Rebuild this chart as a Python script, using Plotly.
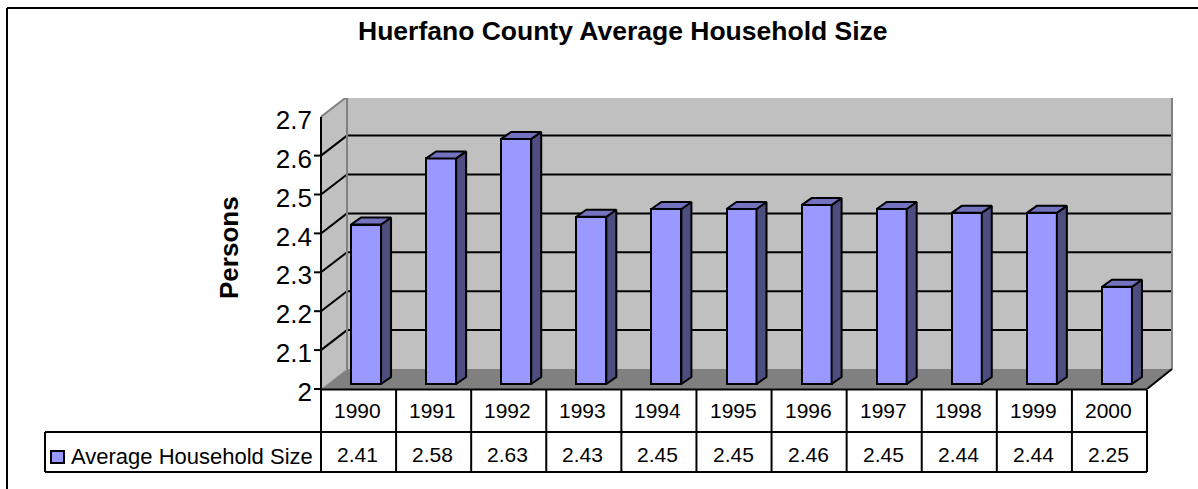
import plotly.graph_objects as go

years = ["1990", "1991", "1992", "1993", "1994", "1995", "1996", "1997", "1998", "1999", "2000"]
household_size = [2.41, 2.58, 2.63, 2.43, 2.45, 2.45, 2.46, 2.45, 2.44, 2.44, 2.25]
y_ticks = [2, 2.1, 2.2, 2.3, 2.4, 2.5, 2.6, 2.7]
y_tick_labels = ["2", "2.1", "2.2", "2.3", "2.4", "2.5", "2.6", "2.7"]
title_text = "Huerfano County Average Household Size"
y_title = "Persons"
series_name = "Average Household Size"

W, H = 1198, 489
FONT = "Liberation Sans, Arial, sans-serif"
PX_X0, PX_X1 = 321, 1173      # plot area, pixels
PX_Y0, PX_Y1 = 389, 98
CAT_PX = 826 / 11             # pixels per category
VAL_PX = 389.0                # pixels per unit of value

def px(p):
    return p / W
def py(p):
    return 1 - p / H
def dx(p):
    return p / CAT_PX
def dy(p):
    return p / VAL_PX

xmin = -0.5
xfront = xmin + 826 / CAT_PX
xmax = xmin + (PX_X1 - PX_X0) / CAT_PX
ymin = 2.0
ymax = ymin + (PX_Y0 - PX_Y1) / VAL_PX
wall_dx, wall_dy = dx(26), dy(20)

def poly(points, fill, line=None, width=0):
    d = "M" + " L".join(f"{a},{b}" for a, b in points) + " Z"
    return dict(type="path", path=d, xref="x", yref="y", layer="below", fillcolor=fill,
                line=dict(color=line or fill, width=width))

def seg(x0, y0, x1, y1, color, width):
    return dict(type="line", x0=x0, y0=y0, x1=x1, y1=y1, xref="x", yref="y", layer="below",
                line=dict(color=color, width=width))

def pseg(a0, b0, a1, b1, color="black", width=2):
    return dict(type="line", x0=px(a0), y0=py(b0), x1=px(a1), y1=py(b1), xref="paper", yref="paper",
                layer="above", line=dict(color=color, width=width))

def label(x, y, text, size, xref="paper", xanchor="center", **font):
    return dict(x=x, y=y, xref=xref, yref="paper", text=text, showarrow=False, xanchor=xanchor, yanchor="middle",
                font=dict(family=FONT, size=size, color="black", **font))

ytop = y_ticks[-1]
shapes = [
    # back wall, side wall, floor
    poly([(xmin + wall_dx, ymin + wall_dy), (xmax, ymin + wall_dy), (xmax, ytop + wall_dy), (xmin + wall_dx, ytop + wall_dy)], "#C0C0C0"),
    poly([(xmin, ymin), (xmin + wall_dx, ymin + wall_dy), (xmin + wall_dx, ytop + wall_dy), (xmin, ytop)], "#C0C0C0"),
    poly([(xmin, ymin), (xmin + wall_dx, ymin + wall_dy), (xmax, ymin + wall_dy), (xfront, ymin)], "#808080"),
]
for t in y_ticks[1:-1]:
    shapes.append(seg(xmin, t, xmin + wall_dx, t + wall_dy, "black", 2))
    shapes.append(seg(xmin + wall_dx, t + wall_dy, xmax - dx(1), t + wall_dy, "black", 2))
shapes += [
    seg(xmin + wall_dx, ymin + wall_dy, xmin + wall_dx, ytop + wall_dy, "#808080", 2),
    seg(xmin + wall_dx, ytop + wall_dy, xmax - dx(1), ytop + wall_dy, "#808080", 2),
    seg(xmax - dx(1), ymin + wall_dy, xmax - dx(1), ytop + wall_dy, "#808080", 2),
    seg(xmin, ytop, xmin + wall_dx, ytop + wall_dy, "#808080", 2),
    seg(xmin, ymin, xmin + wall_dx, ymin + wall_dy, "#A6A6A6", 1),
    seg(xfront, ymin, xmax - dx(1), ymin + wall_dy, "black", 2),
]

# value axis line and tick marks (no mark at the top value)
shapes.append(pseg(PX_X0, PX_Y0, PX_X0, PX_Y0 - (ytop - ymin) * VAL_PX))
for t in y_ticks[:-1]:
    tick_px = PX_Y0 - (t - ymin) * VAL_PX
    shapes.append(pseg(PX_X0 - 7, tick_px, PX_X0, tick_px))

# outer chart frame (top and left edges only are in view)
shapes += [pseg(7, 8, 1198, 8), pseg(7, 8, 7, 489)]

# data table rules
T0, T1, T2, TL = 389.5, 432, 472, 45
shapes += [pseg(PX_X0, T0, 1147, T0), pseg(TL, T1, 1147, T1), pseg(TL, T2, 1147, T2), pseg(TL, T1, TL, T2)]
for i in range(len(years) + 1):
    a = PX_X0 + i * CAT_PX
    shapes.append(pseg(a, T0, a, T2))
# legend key
shapes.append(dict(type="rect", x0=px(51), x1=px(64), y0=py(463), y1=py(451), xref="paper", yref="paper",
                   fillcolor="#9999FF", line=dict(color="black", width=2)))

annotations = []
for i, (yr, v) in enumerate(zip(years, household_size)):
    annotations.append(label(i - dx(1), py(410.5), yr, 21, xref="x"))
    annotations.append(label(i - dx(1), py(454.5), f"{v:.2f}", 21, xref="x"))
annotations.append(label(px(69), py(456), series_name, 22, xanchor="left"))
annotations.append(dict(label(px(229), py(248), y_title, 26, weight="bold"), textangle=-90))
annotations.append(label(px(622.5), py(31), title_text, 26.5, weight="bold"))

# bar geometry, relative to the front plane
BAR_W = dx(30)
SHIFT = dx(7.5)
LIFT = dy(5)
DEPTH_X, DEPTH_Y = dx(10), dy(7)

fig = go.Figure()
fig.add_trace(go.Bar(
    x=[i + SHIFT for i in range(len(years))],
    y=[v - ymin for v in household_size],
    base=ymin + LIFT,
    width=BAR_W,
    marker=dict(color="#9999FF", line=dict(color="black", width=2)),
    name=series_name,
))
for i, v in enumerate(household_size):
    l = i + SHIFT - BAR_W / 2
    r = i + SHIFT + BAR_W / 2
    b = ymin + LIFT
    t = v + LIFT
    fig.add_trace(go.Scatter(
        x=[r, r + DEPTH_X, r + DEPTH_X, r, r], y=[b, b + DEPTH_Y, t + DEPTH_Y, t, b],
        mode="lines", fill="toself", fillcolor="#4D4D80", line=dict(color="black", width=2),
        hoverinfo="skip"))
    fig.add_trace(go.Scatter(
        x=[l, l + DEPTH_X, r + DEPTH_X, r, l], y=[t, t + DEPTH_Y, t + DEPTH_Y, t, t],
        mode="lines", fill="toself", fillcolor="#7373BF", line=dict(color="black", width=2),
        hoverinfo="skip"))

fig.update_layout(
    template="none",
    width=W, height=H, autosize=False, showlegend=False,
    margin=dict(l=0, r=0, t=0, b=0, pad=0),
    paper_bgcolor="white", plot_bgcolor="white",
    bargap=0,
    shapes=shapes, annotations=annotations,
    xaxis=dict(domain=[px(PX_X0), px(PX_X1)], range=[xmin, xmax], visible=False, automargin=False),
    yaxis=dict(domain=[py(PX_Y0), py(PX_Y1)], range=[ymin, ymax], tickmode="array", automargin=False,
               tickvals=y_ticks, ticktext=y_tick_labels, showgrid=False, zeroline=False,
               showline=False, ticks="", ticklabelstandoff=8, ticklabelshift=3,
               tickfont=dict(family=FONT, size=26, color="black")),
)
fig.write_html("out.html", default_width=f"{W}px", default_height=f"{H}px",
               config={"responsive": False, "displayModeBar": False},
               post_script="document.body.style.margin='0';document.body.style.overflow='hidden';")
